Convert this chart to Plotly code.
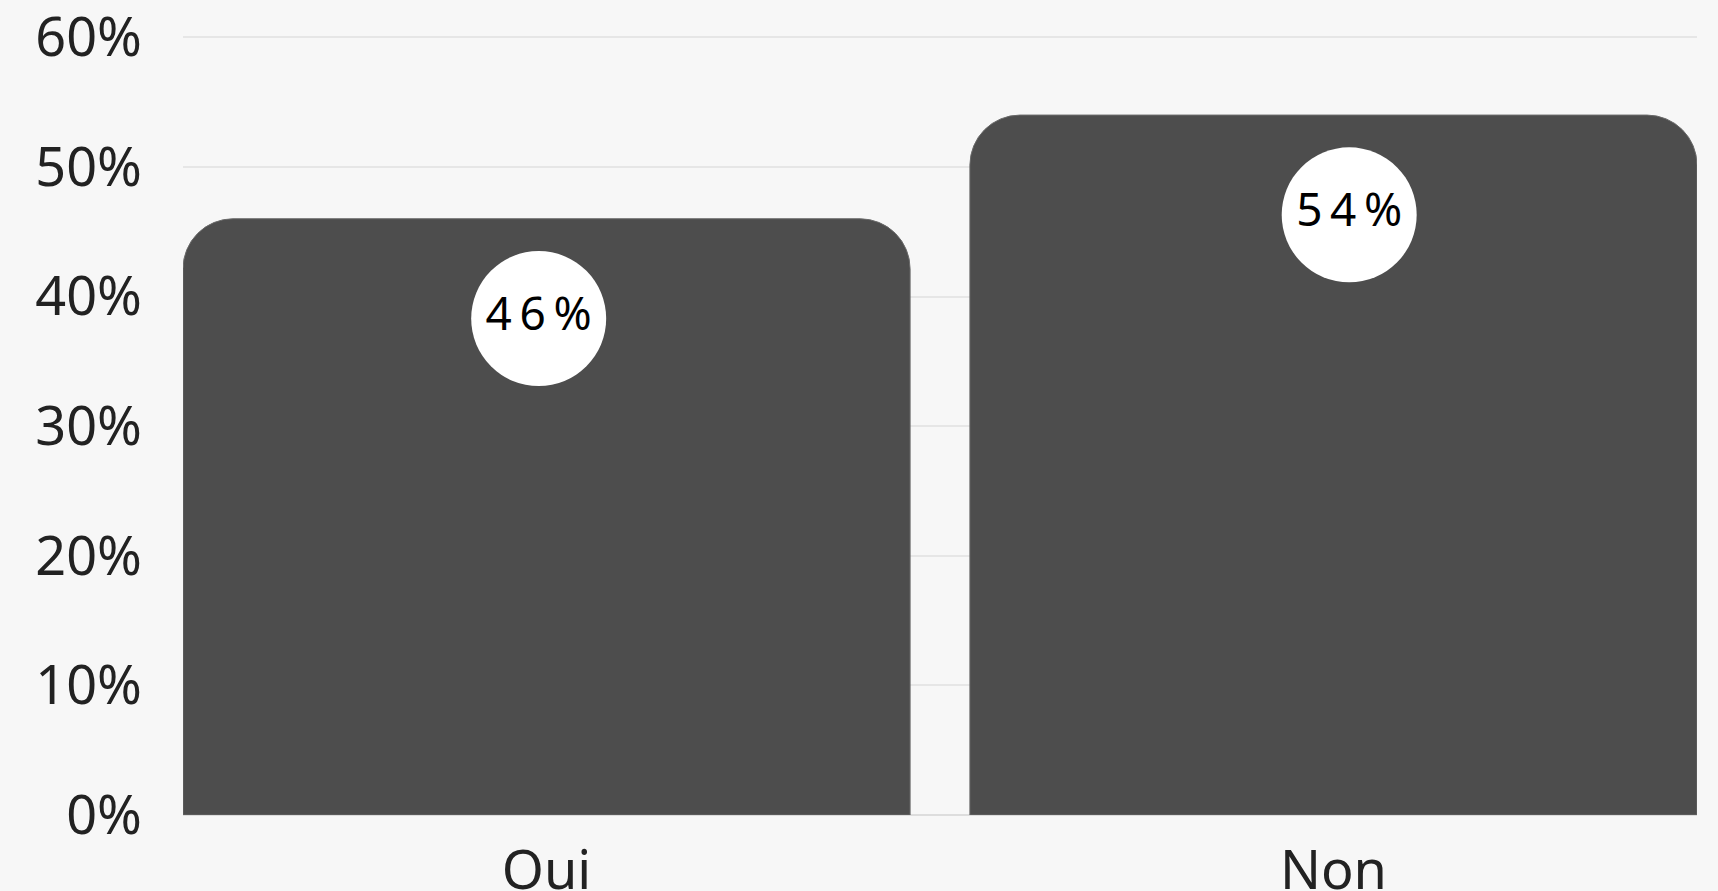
"""Oui / Non poll result as two rounded bars with circular value badges."""

import plotly.graph_objects as go

# Data
categories = ["Oui", "Non"]
shares = [46, 54]
y_ticks = [0, 10, 20, 30, 40, 50, 60]
y_tick_labels = [f"{v}%" for v in y_ticks]

# Style
BG = "#f7f7f7"
BAR = "#4d4d4d"
GRID = "#e6e6e6"
INK = "#222222"
FONT = "Noto Sans, Open Sans, sans-serif"
BAR_WIDTH = 0.924
BADGE_DROP = 7.7             # badge centre sits this far (in % units) under the bar top
BADGE_NUDGE = [-0.01, 0.02]  # small horizontal nudge of each badge, in category units
THIN = "\u2009"              # the badge text is set with wide letter spacing

xs = list(range(len(categories)))

fig = go.Figure()
fig.add_trace(
    go.Bar(
        x=xs,
        y=shares,
        width=BAR_WIDTH,
        marker=dict(color=BAR, cornerradius=50, line=dict(color="#6a6a6a", width=1)),
        hoverinfo="skip",
    )
)
fig.add_trace(
    go.Scatter(
        x=[x + d for x, d in zip(xs, BADGE_NUDGE)],
        y=[v - BADGE_DROP for v in shares],
        mode="markers+text",
        text=[THIN.join(f"{v}%") for v in shares],
        textposition="middle center",
        textfont=dict(family=FONT, size=46, color="#000000"),
        marker=dict(size=135, color="white", line=dict(width=0)),
        hoverinfo="skip",
        cliponaxis=False,
    )
)

fig.update_layout(
    width=1718,
    height=891,
    paper_bgcolor=BG,
    plot_bgcolor=BG,
    margin=dict(l=183, r=21, t=36, b=76, autoexpand=False),
    font=dict(family=FONT, color=INK, size=54),
    showlegend=False,
)
fig.update_xaxes(
    range=[-BAR_WIDTH / 2, len(categories) - 1 + BAR_WIDTH / 2],
    tickmode="array",
    tickvals=xs,
    ticktext=categories,
    showgrid=False,
    zeroline=False,
    showline=False,
    ticks="",
    automargin=False,
    ticklabeloverflow="allow",
    ticklabelstandoff=19,
    tickfont=dict(size=54, color=INK),
)
fig.update_yaxes(
    range=[0, 60.1],
    tickmode="array",
    tickvals=y_ticks,
    ticktext=y_tick_labels,
    showgrid=True,
    gridcolor=GRID,
    gridwidth=2,
    zeroline=True,
    zerolinecolor="#dddddd",
    zerolinewidth=2,
    ticks="",
    automargin=False,
    ticklabeloverflow="allow",
    ticklabelstandoff=40,
    tickfont=dict(size=54, color=INK),
)

fig.write_html(
    "out.html",
    config={"displayModeBar": False},
    post_script="document.body.style.margin='0';document.body.style.background='#f7f7f7';",
)
